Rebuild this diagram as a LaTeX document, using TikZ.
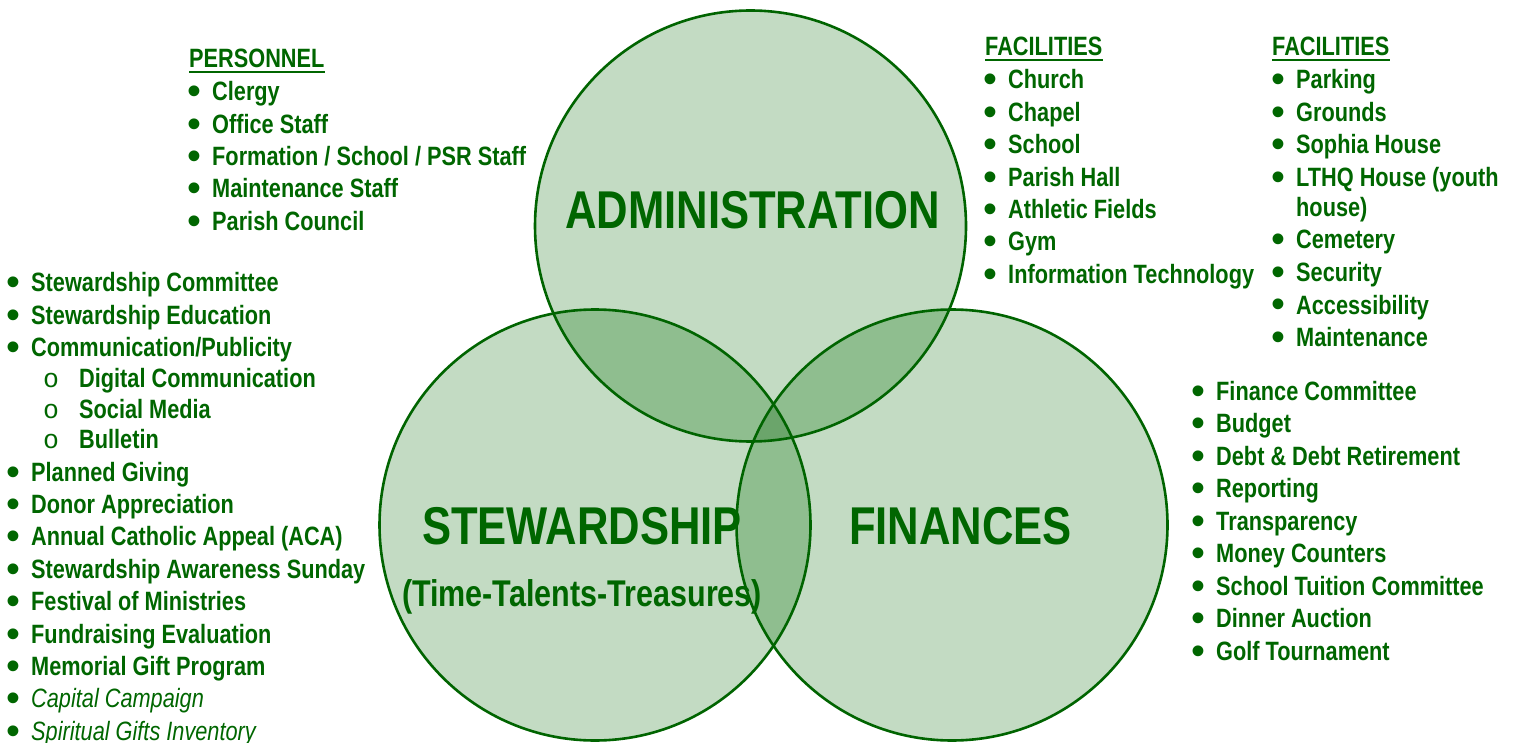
\documentclass[tikz,border=0pt]{standalone}
\usepackage{fontspec}
\setmainfont{Liberation Sans}[FakeStretch=0.82]
\newfontfamily\monof{Liberation Mono}
\newfontfamily\bulfont{Liberation Sans}
\definecolor{txtgreen}{RGB}{0,102,0}
\definecolor{ringgreen}{RGB}{0,100,0}
\definecolor{fillone}{RGB}{195,219,195}
\definecolor{filltwo}{RGB}{143,190,143}
\definecolor{fillthree}{RGB}{107,165,107}
\newcommand\bul{\llap{\makebox[0pt][c]{\smash{\raisebox{-4pt}{\scalebox{1.5}{\normalfont\bulfont\fontsize{26.5}{30}\selectfont •}}}}\hspace{18pt}}}
\newcommand\subbul{\llap{\makebox[0pt][c]{\normalfont\monof\fontsize{26.5}{32}\selectfont o}\hspace{28pt}}}
\tikzset{
  item/.style={anchor=base west, inner sep=0pt, text=txtgreen, font=\bfseries\fontsize{26.5}{32}\selectfont},
  itemit/.style={item, font=\itshape\fontsize{26.5}{32}\selectfont},
  title/.style={anchor=base, inner sep=0pt, text=txtgreen, font=\bfseries\fontsize{53.2}{60}\selectfont},
  subtitle/.style={anchor=base, inner sep=0pt, text=txtgreen, font=\bfseries\fontsize{37.2}{42}\selectfont},
  ring/.style={draw=ringgreen, line width=2.6pt},
  uline/.style={draw=txtgreen, line width=2.2pt}
}
\begin{document}
\begin{tikzpicture}[x=1pt,y=-1pt]
\useasboundingbox (0,0) rectangle (1515,743);
\coordinate (A) at (750.5,226);
\coordinate (S) at (595,525);
\coordinate (F) at (952,525);
% fills
\fill[fillone] (A) circle[radius=215.5pt];
\fill[fillone] (S) circle[radius=215.5pt];
\fill[fillone] (F) circle[radius=215.5pt];
\begin{scope}
  \clip (A) circle[radius=215.5pt];
  \fill[filltwo] (S) circle[radius=215.5pt];
  \fill[filltwo] (F) circle[radius=215.5pt];
\end{scope}
\begin{scope}
  \clip (S) circle[radius=215.5pt];
  \fill[filltwo] (F) circle[radius=215.5pt];
\end{scope}
\begin{scope}
  \clip (A) circle[radius=215.5pt];
  \clip (S) circle[radius=215.5pt];
  \fill[fillthree] (F) circle[radius=215.5pt];
\end{scope}
\draw[ring] (A) circle[radius=215.5pt];
\draw[ring] (S) circle[radius=215.5pt];
\draw[ring] (F) circle[radius=215.5pt];
% titles
\node[title] (tadm) at (752.5,229) {ADMINISTRATION};
\node[title] (tstw) at (582,544) {STEWARDSHIP};
\node[subtitle] (tttt) at (582,606) {(Time-Talents-Treasures)};
\node[title] (tfin) at (960.5,544) {FINANCES};
% personnel
\node[item] (hpers) at (189,68) {PERSONNEL};
\draw[uline] ([yshift=-4pt]hpers.base west) -- ([yshift=-4pt]hpers.base east);
\node[item] (p1) at (212,101) {\bul Clergy};
\node[item] (p2) at (212,133.5) {\bul Office Staff};
\node[item] (p3) at (212,166) {\bul Formation / School / PSR Staff};
\node[item] (p4) at (212,198) {\bul Maintenance Staff};
\node[item] (p5) at (212,230.5) {\bul Parish Council};
% facilities 1
\node[item] (hfa) at (985,56) {FACILITIES};
\draw[uline] ([yshift=-4pt]hfa.base west) -- ([yshift=-4pt]hfa.base east);
\node[item] (fa1) at (1008,89) {\bul Church};
\node[item] (fa2) at (1008,121.4) {\bul Chapel};
\node[item] (fa3) at (1008,153.8) {\bul School};
\node[item] (fa4) at (1008,186.2) {\bul Parish Hall};
\node[item] (fa5) at (1008,218.6) {\bul Athletic Fields};
\node[item] (fa6) at (1008,251) {\bul Gym};
\node[item] (fa7) at (1008,283.4) {\bul Information Technology};
% facilities 2
\node[item] (hfb) at (1272,56) {FACILITIES};
\draw[uline] ([yshift=-4pt]hfb.base west) -- ([yshift=-4pt]hfb.base east);
\node[item] (fb1) at (1296,89) {\bul Parking};
\node[item] (fb2) at (1296,121.4) {\bul Grounds};
\node[item] (fb3) at (1296,153.8) {\bul Sophia House};
\node[item] (fb4) at (1296,186.2) {\bul LTHQ House (youth};
\node[item] (fb4b) at (1296,217) {house)};
\node[item] (fb5) at (1296,249) {\bul Cemetery};
\node[item] (fb6) at (1296,282) {\bul Security};
\node[item] (fb7) at (1296,314) {\bul Accessibility};
\node[item] (fb8) at (1296,346) {\bul Maintenance};
% finances
\node[item] (n1) at (1216,400) {\bul Finance Committee};
\node[item] (n2) at (1216,432.5) {\bul Budget};
\node[item] (n3) at (1216,465) {\bul Debt \& Debt Retirement};
\node[item] (n4) at (1216,497.5) {\bul Reporting};
\node[item] (n5) at (1216,530) {\bul Transparency};
\node[item] (n6) at (1216,562.5) {\bul Money Counters};
\node[item] (n7) at (1216,595) {\bul School Tuition Committee};
\node[item] (n8) at (1216,627.5) {\bul Dinner Auction};
\node[item] (n9) at (1216,660) {\bul Golf Tournament};
% stewardship
\node[item] (s1) at (31,292) {\bul Stewardship Committee};
\node[item] (s2) at (31,324.4) {\bul Stewardship Education};
\node[item] (s3) at (31,356.7) {\bul Communication/Publicity};
\node[item] (s3a) at (79,387.5) {\subbul Digital Communication};
\node[item] (s3b) at (79,418) {\subbul Social Media};
\node[item] (s3c) at (79,448.5) {\subbul Bulletin};
\node[item] (s4) at (31,481) {\bul Planned Giving};
\node[item] (s5) at (31,513.4) {\bul Donor Appreciation};
\node[item] (s6) at (31,545.8) {\bul Annual Catholic Appeal (ACA)};
\node[item] (s7) at (31,578.2) {\bul Stewardship Awareness Sunday};
\node[item] (s8) at (31,610.6) {\bul Festival of Ministries};
\node[item] (s9) at (31,643) {\bul Fundraising Evaluation};
\node[item] (s10) at (31,675.4) {\bul Memorial Gift Program};
\node[itemit] (s11) at (31,707.8) {\bul Capital Campaign};
\node[itemit] (s12) at (31,740.2) {\bul Spiritual Gifts Inventory};
\end{tikzpicture}
\end{document}
